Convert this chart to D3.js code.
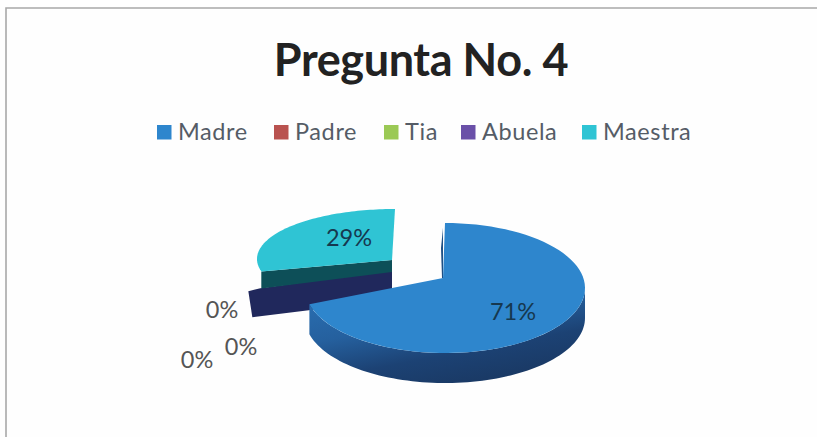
<!DOCTYPE html>
<html><head><meta charset="utf-8">
<script src="https://cdnjs.cloudflare.com/ajax/libs/d3/7.8.5/d3.min.js"></script>
<style>html,body{margin:0;padding:0;background:#fff}svg{display:block}</style>
</head><body><svg id="c" width="817" height="437"></svg>
<script>
const categories = ["Madre","Padre","Tia","Abuela","Maestra"];
const values = [71,0,0,0,29];
const labels = ["71%","0%","0%","0%","29%"];
const colors = ["#2e86cd","#b9524f","#9bc955","#6a50a8","#2fc4d4"];
const wallColors = ["#1d4f84","#5a2726","#4d6628","#20285c","#0d4f58"];

const svg = d3.select("#c");
const FONT = "Lato,'Open Sans',sans-serif";
const defs = svg.append("defs");
const gr = defs.append("linearGradient").attr("id","wall").attr("x1",0).attr("x2",0.55).attr("y1",0).attr("y2",1);
gr.append("stop").attr("offset","0%").attr("stop-color","#2a72b6");
gr.append("stop").attr("offset","45%").attr("stop-color","#25609e");
gr.append("stop").attr("offset","75%").attr("stop-color","#1c4274");
gr.append("stop").attr("offset","100%").attr("stop-color","#1a3a66");

svg.append("rect").attr("width",817).attr("height",437).attr("fill","#fefefe");
svg.append("path").attr("d","M6 437V8H817").attr("fill","none").attr("stroke","#a8a8a8").attr("stroke-width",1.6);

svg.append("text").attr("x",421).attr("y",76).attr("text-anchor","middle")
  .attr("font-family",FONT).attr("font-weight",700).attr("font-size",45).attr("letter-spacing",-0.4)
  .attr("fill","#222").text("Pregunta No. 4");

// legend
const legendX = d3.scaleOrdinal().domain(categories).range([157,274,384,461,582]);
const lg = svg.append("g").selectAll("g").data(categories).join("g")
  .attr("transform",d=>`translate(${legendX(d)},125)`);
lg.append("rect").attr("width",14.5).attr("height",14.5).attr("fill",(d,i)=>colors[i]);
lg.append("text").attr("x",21).attr("y",15).attr("font-family",FONT).attr("font-size",23.5).attr("letter-spacing",0.6)
  .attr("fill","#555c66").text(d=>d);

// pie
const pie = d3.pie().sort(null).value(d=>d)(values);
const depth = 30;
const geo = [
  {c:[445,288],rx:140,ry:65,tip:[443,278]},
  {c:[382,275],rx:138,ry:65,tip:[392,270]},
  {c:[382,275],rx:138,ry:65,tip:[392,270]},
  {c:[382,275],rx:138,ry:65,tip:[392,270]},
  {c:[395,259],rx:138,ry:50,tip:[392,260]}
];
function pt(g,a){return [g.c[0]+g.rx*Math.sin(a), g.c[1]-g.ry*Math.cos(a)];}
function topFace(i){
  const s=pie[i],g=geo[i],p=d3.path();
  p.moveTo(...g.tip);
  const n=80;
  d3.range(n+1).forEach(k=>{p.lineTo(...pt(g,s.startAngle+(s.endAngle-s.startAngle)*k/n));});
  p.closePath();return p.toString();
}
const root = svg.append("g");
// exploded zero slice wall
{
  const g=geo[3],a=pie[3].startAngle,o=pt(g,a);
  root.append("path").attr("d",d3.line()([g.tip,[o[0]+12,o[1]-3],o,[o[0]+4,o[1]+depth-4],[g.tip[0],g.tip[1]+depth]])).attr("fill",wallColors[3]);
}
// Maestra
{
  const g=geo[4],o=pt(g,pie[4].startAngle);
  root.append("path").attr("d",d3.line()([g.tip,o,[o[0],o[1]+17],[g.tip[0],g.tip[1]+12]])).attr("fill",wallColors[4]);
  root.append("path").attr("d",topFace(4)).attr("fill",colors[4]);
}
// Madre wall
{
  const s=pie[0],g=geo[0];
  const from=Math.PI/2,to=s.endAngle,n=80;
  const up=d3.range(n+1).map(k=>pt(g,from+(to-from)*k/n));
  const dn=up.slice().reverse().map(q=>[q[0],q[1]+depth]);
  root.append("path").attr("d",d3.line()(up.concat(dn))).attr("fill","url(#wall)");
  root.append("path").attr("d",d3.line()([g.tip,[g.tip[0],g.tip[1]-50],[g.tip[0]-2,g.tip[1]-30],[g.tip[0]-1,g.tip[1]]])).attr("fill",wallColors[0]);
  root.append("path").attr("d",topFace(0)).attr("fill",colors[0]);
}
const dl=[[513,312],[197,360],[241,347],[222,310],[349,238]];
svg.append("g").selectAll("text").data(labels).join("text")
  .attr("x",(d,i)=>dl[i][0]).attr("y",(d,i)=>dl[i][1]+8).attr("text-anchor","middle")
  .attr("font-family",FONT).attr("font-size",23.5)
  .attr("fill",(d,i)=>(i===0||i===4)?"#16384f":"#555").text(d=>d);
</script></body></html>
